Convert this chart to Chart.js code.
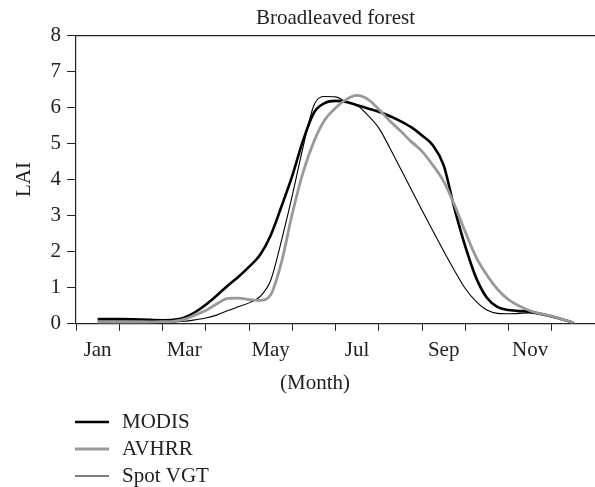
<!DOCTYPE html>
<html>
<head>
<meta charset="utf-8">
<script src="https://cdn.jsdelivr.net/npm/chart.js@4"></script>
<style>
  html, body { margin: 0; padding: 0; background: #fff; }
</style>
</head>
<body>
<canvas id="chart" width="595" height="487"></canvas>
<script>
// months along the x axis, every other one is labelled
const months = ["Jan", "Feb", "Mar", "Apr", "May", "Jun", "Jul", "Aug", "Sep", "Oct", "Nov", "Dec"];

// sample times in months from the start of January
const timeline = [0.5, 1.0, 1.5, 2.0, 2.25, 2.5, 2.75, 3.0, 3.25, 3.5, 3.75, 4.0, 4.25, 4.5, 4.75,
  5.0, 5.25, 5.5, 5.75, 6.0, 6.25, 6.5, 6.75, 7.0, 7.25, 7.5, 7.75, 8.0, 8.25, 8.5, 8.75,
  9.0, 9.25, 9.5, 9.75, 10.0, 10.5, 11.0, 11.5];

const modis = [0.13, 0.13, 0.12, 0.10, 0.11, 0.17, 0.32, 0.53, 0.78, 1.05, 1.30, 1.58, 1.90, 2.45, 3.25,
  4.10, 5.08, 5.85, 6.12, 6.18, 6.15, 6.06, 5.97, 5.88, 5.76, 5.62, 5.45, 5.22, 4.95, 4.40, 3.20,
  2.15, 1.28, 0.72, 0.46, 0.38, 0.33, 0.20, 0.03];

const avhrr = [0.05, 0.05, 0.05, 0.06, 0.07, 0.12, 0.24, 0.37, 0.55, 0.70, 0.71, 0.67, 0.65, 0.80, 1.70,
  3.05, 4.20, 5.05, 5.65, 5.98, 6.22, 6.33, 6.22, 5.95, 5.63, 5.35, 5.05, 4.78, 4.40, 3.95, 3.30,
  2.55, 1.85, 1.35, 0.95, 0.67, 0.36, 0.21, 0.03];

const spotVgt = [0.07, 0.07, 0.06, 0.05, 0.05, 0.07, 0.11, 0.16, 0.24, 0.36, 0.47, 0.58, 0.75, 1.20, 2.30,
  3.55, 4.90, 6.05, 6.30, 6.29, 6.15, 6.05, 5.78, 5.43, 4.89, 4.31, 3.73, 3.15, 2.58, 2.02, 1.48,
  0.98, 0.62, 0.38, 0.29, 0.28, 0.30, 0.20, 0.03];

const ink = "#222";
const fontFamily = "'Liberation Serif', 'DejaVu Serif', serif";
const serif = { family: fontFamily, size: 21 };

function toPoints(values) {
  return values.map((v, i) => ({ x: timeline[i], y: v }));
}

// axis caption and a legend stacked under the axis, lines on the left
const bottomNotes = {
  id: "bottomNotes",
  afterDraw(chart) {
    const ctx = chart.ctx;
    ctx.save();
    ctx.font = "21px " + fontFamily;
    ctx.textBaseline = "middle";
    ctx.fillStyle = ink;
    ctx.textAlign = "center";
    ctx.fillText("(Month)", 315, 383);
    ctx.textAlign = "left";
    chart.data.datasets.forEach((ds, i) => {
      const y = 422 + i * 27;
      ctx.strokeStyle = ds.borderColor;
      ctx.lineWidth = ds.borderWidth;
      ctx.beginPath();
      ctx.moveTo(75, y);
      ctx.lineTo(109, y);
      ctx.stroke();
      ctx.fillText(ds.label, 122, y);
    });
    ctx.restore();
  }
};

new Chart(document.getElementById("chart"), {
  type: "line",
  data: {
    datasets: [
      { label: "MODIS", data: toPoints(modis), borderColor: "#000", borderWidth: 2.6, order: 1 },
      { label: "AVHRR", data: toPoints(avhrr), borderColor: "#999999", borderWidth: 2.8, order: 0 },
      { label: "Spot VGT", data: toPoints(spotVgt), borderColor: "#000", borderWidth: 1.1, order: 2 }
    ].map((ds) => Object.assign(ds, {
      xAxisID: "x",
      pointRadius: 0,
      fill: false,
      cubicInterpolationMode: "monotone"
    }))
  },
  options: {
    responsive: false,
    animation: false,
    layout: { padding: { left: 0, right: 0, top: 0, bottom: 117 } },
    plugins: {
      legend: { display: false },
      tooltip: { enabled: false },
      title: {
        display: true,
        text: "Broadleaved forest",
        fullSize: false,
        color: ink,
        font: { ...serif, weight: "normal" },
        padding: { top: 6, bottom: 4 }
      }
    },
    scales: {
      x: {
        type: "linear",
        position: "bottom",
        min: 0,
        max: 12,
        afterBuildTicks: (scale) => {
          const ticks = [];
          months.forEach((m, i) => {
            ticks.push({ value: i });
            ticks.push({ value: i + 0.5 });
          });
          ticks.push({ value: months.length });
          scale.ticks = ticks;
        },
        afterFit: (scale) => {
          scale.paddingLeft = 0;
          scale.paddingRight = 0;
        },
        ticks: {
          autoSkip: false,
          maxRotation: 0,
          padding: 7,
          color: ink,
          font: serif,
          callback: (value) => {
            const i = Math.floor(value);
            return value - i === 0.5 && i % 2 === 0 ? months[i] : "";
          }
        },
        grid: {
          drawOnChartArea: false,
          tickLength: 7,
          tickColor: (ctx) => (ctx.tick && Number.isInteger(ctx.tick.value) ? ink : "rgba(0,0,0,0)")
        },
        border: { color: ink, width: 1.2 }
      },
      x2: {
        type: "linear",
        position: "top",
        min: 0,
        max: 12,
        grid: { display: false, drawTicks: false },
        ticks: { display: false },
        border: { color: ink, width: 1.2 }
      },
      y: {
        min: 0,
        max: 8,
        ticks: { stepSize: 1, padding: 6, color: ink, font: serif },
        grid: { drawOnChartArea: false, tickLength: 9, tickColor: ink },
        border: { color: ink, width: 1.2 },
        title: { display: true, text: "LAI", color: ink, font: serif, padding: { top: 12, bottom: 0 } },
        afterFit: (scale) => { scale.width = 76; }
      }
    }
  },
  plugins: [bottomNotes]
});
</script>
</body>
</html>
